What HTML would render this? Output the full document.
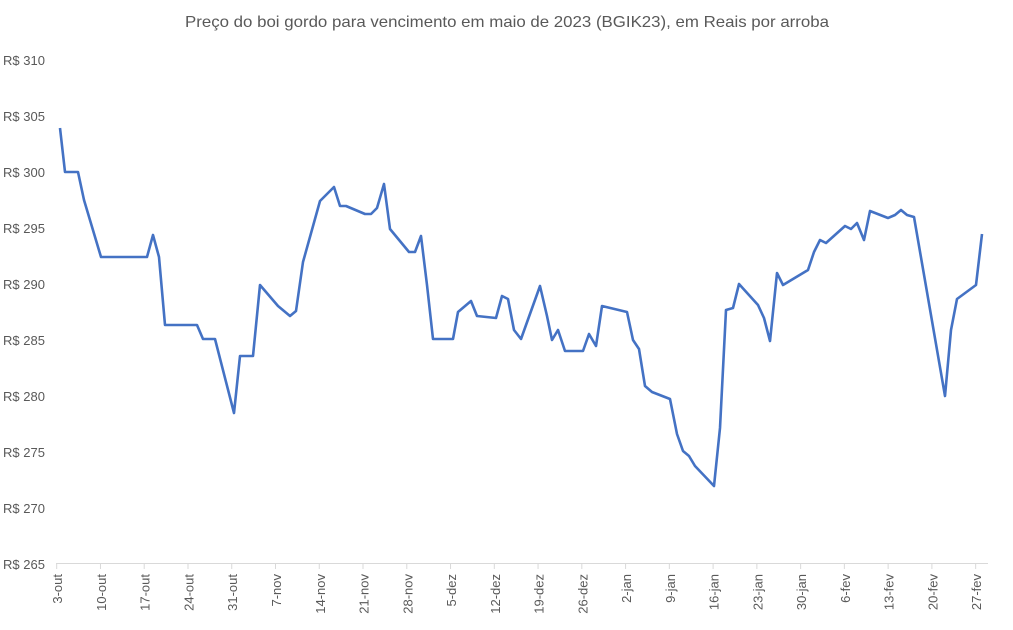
<!DOCTYPE html>
<html><head><meta charset="utf-8"><style>body{margin:0;background:#fff}svg{display:block}</style></head><body>
<svg width="1013" height="630" xmlns="http://www.w3.org/2000/svg" font-family="Liberation Sans, sans-serif">
<rect width="1013" height="630" fill="#fff"/>
<text x="507" y="27" font-size="16" fill="#595959" text-anchor="middle" textLength="644" lengthAdjust="spacingAndGlyphs">Preço do boi gordo para vencimento em maio de 2023 (BGIK23), em Reais por arroba</text>
<g font-size="13" fill="#595959">
<text x="3" y="65">R$ 310</text><text x="3" y="121">R$ 305</text><text x="3" y="177">R$ 300</text><text x="3" y="233">R$ 295</text><text x="3" y="289">R$ 290</text><text x="3" y="345">R$ 285</text><text x="3" y="401">R$ 280</text><text x="3" y="457">R$ 275</text><text x="3" y="513">R$ 270</text><text x="3" y="569">R$ 265</text>
</g>
<line x1="56" y1="563.5" x2="988" y2="563.5" stroke="#d9d9d9" stroke-width="1"/>
<g id="ticks" stroke="#d9d9d9"></g>
<g id="lbl" font-size="13" fill="#595959"></g>
<polyline fill="none" stroke="#4472c4" stroke-width="2.6" stroke-linejoin="round" points="60,128 65,172 78,172 84,200 101,257 147,257 153,235 159,257 165,325 197,325 203,339 215,339 234,413 240,356 253,356 260,285 278,306 290,316 296,311 303,262 320,201 334,187 340,206 346,206 365,214 371,214 377,208 384,184 390,229 409,252 415,252 421,236 427,285 433,339 453,339 458,312 471,301 477,316 496,318 502,296 508,299 514,330 521,339 540,286 547,316 552,340 558,330 565,351 583,351 589,334 596,346 602,306 627,312 633,340 639,349 645,386 652,392 670,399 677,434 683,451 689,456 695,466 714,486 720,428 726,310 733,308 739,284 758,305 764,318 770,341 777,273 783,285 808,270 814,252 820,240 826,243 845,226 851,229 857,223 864,240 870,211 888,218 895,215 901,210 907,215 914,217 945,396 951,330 957,299 976,285 982,234"/>
<script>
var L=["3-out","10-out","17-out","24-out","31-out","7-nov","14-nov","21-nov","28-nov","5-dez","12-dez","19-dez","26-dez","2-jan","9-jan","16-jan","23-jan","30-jan","6-fev","13-fev","20-fev","27-fev"];
var t=document.getElementById('ticks'),g=document.getElementById('lbl'),ns="http://www.w3.org/2000/svg";
L.forEach(function(s,i){var x=56.7+43.76*i;var l=document.createElementNS(ns,'line');l.setAttribute('x1',x);l.setAttribute('x2',x);l.setAttribute('y1',563);l.setAttribute('y2',569);t.appendChild(l);
var tx=document.createElementNS(ns,'text');var cx=x+5.5;tx.setAttribute('transform','translate('+cx+',574) rotate(-90)');tx.setAttribute('text-anchor','end');tx.textContent=s;g.appendChild(tx);});
</script>
</svg>
</body></html>
